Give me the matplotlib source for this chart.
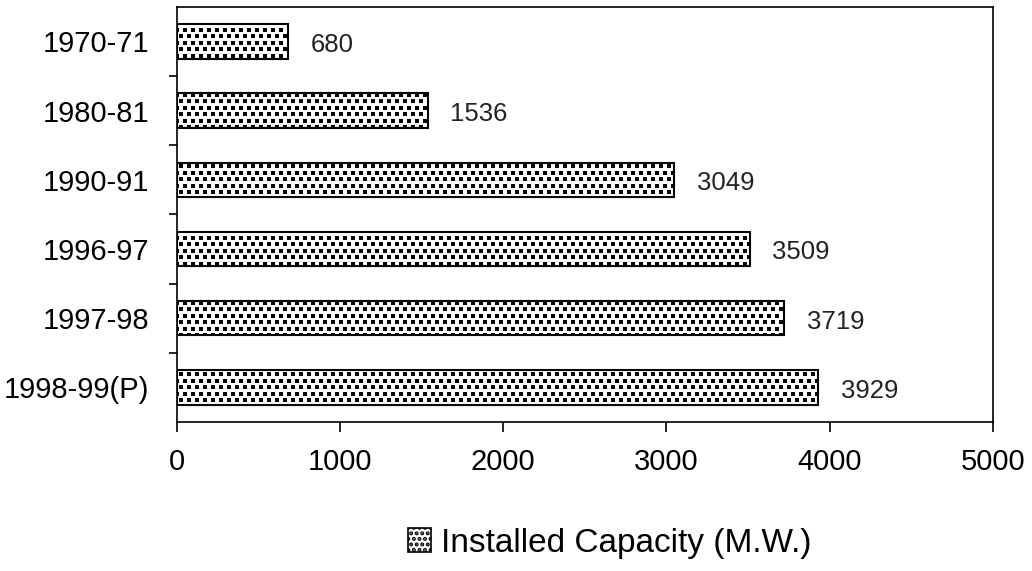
import numpy as np
import matplotlib
matplotlib.use("Agg")
import matplotlib.pyplot as plt
from matplotlib.patches import Patch

plt.rcParams['font.family'] = ['Liberation Sans', 'DejaVu Sans']
plt.rcParams['hatch.linewidth'] = 2.0

# 数据
years = ["1970-71", "1980-81", "1990-91", "1996-97", "1997-98", "1998-99(P)"]
capacity = [680, 1536, 3049, 3509, 3719, 3929]
series_name = "Installed Capacity (M.W.)"
x_ticks = [0, 1000, 2000, 3000, 4000, 5000]

fig = plt.figure(figsize=(10.32, 5.71), dpi=100)
ax = fig.add_axes([0.1715, 0.261, 0.7905, 0.727])

y = np.arange(len(years))
bars = ax.barh(y, capacity, height=0.5, color="white", edgecolor="black",
               linewidth=1.5, zorder=2)

# 点状纹理（像 Excel 的点填充），按像素间距铺满坐标区，再裁剪到每个柱子
ax_w_px, ax_h_px = 816, 415
gx, gy = [], []
for r, py in enumerate(np.arange(2, ax_h_px, 6.5)):
    shift = 4 if r % 2 else 0
    for px in np.arange(shift, ax_w_px, 8):
        gx.append(px / ax_w_px)
        gy.append(py / ax_h_px)
for b in bars:
    sc = ax.scatter(gx, gy, s=5.5, marker="s", color="black", linewidths=0,
                    transform=ax.transAxes, zorder=2.5)
    sc.set_clip_path(b)

# 数值标签
for yi, v in zip(y, capacity):
    ax.text(v + 140, yi + 0.05, str(v), va="center", ha="left", fontsize=18.5,
            color="#222222")

ax.set_xlim(0, 5000)
ax.set_ylim(len(years) - 0.5, -0.5)
ax.set_xticks(x_ticks)
ax.set_xticklabels([str(t) for t in x_ticks], fontsize=21)
ax.set_yticks(y)
ax.set_yticklabels(years, fontsize=21)
ax.tick_params(axis="y", length=0, pad=20)
ax.set_yticks(np.arange(0.5, len(years) - 1), minor=True)
ax.tick_params(axis="y", which="minor", length=6, width=1.2)
ax.tick_params(axis="x", length=7, width=1.2, pad=12)
for s in ax.spines.values():
    s.set_linewidth(1.2)

handle = Patch(facecolor="white", edgecolor="black", hatch="...", linewidth=1.2)
fig.legend([handle], [series_name], loc="center", bbox_to_anchor=(0.591, 0.049),
           frameon=False, fontsize=24, handlelength=0.7, handleheight=0.7,
           handletextpad=0.3)

plt.savefig("out.png", dpi=100)
plt.close(fig)
